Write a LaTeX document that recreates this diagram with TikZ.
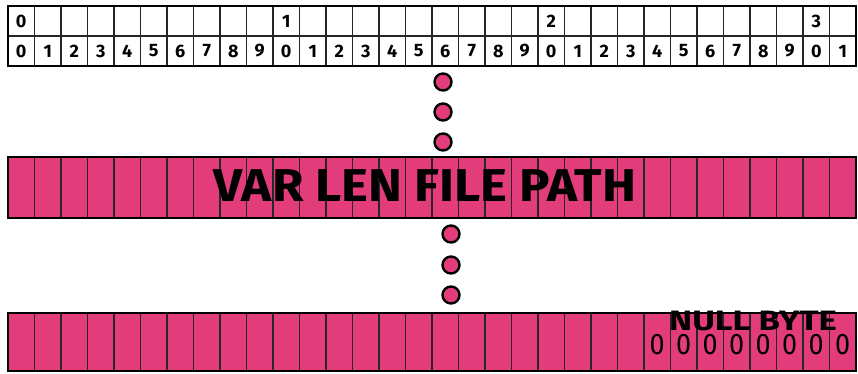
\documentclass[tikz,border=0pt]{standalone}
\usepackage{fontspec}
\setmainfont{Fira Sans}
\definecolor{pinkbar}{RGB}{226,60,122}

\begin{document}
\begin{tikzpicture}[x=1pt, y=-1pt,
    cell/.style={draw=black!85, line width=1.8pt},
    frame/.style={draw=black, line width=2.6pt},
    dot/.style={circle, draw=black, fill=pinkbar, line width=2.4pt, minimum size=17pt, inner sep=0pt},
    digit/.style={font=\bfseries\fontsize{18}{18}\selectfont, inner sep=0pt},
    zero/.style={font=\fontsize{27}{27}\selectfont, inner sep=0pt, yscale=1.1},
    heavy/.style={font=\bfseries\fontsize{#1}{#1}\selectfont, inner sep=0pt}]
  \useasboundingbox (0,0) rectangle (858,374);

  % Thang bit
  \foreach \i in {1,...,31}
    \draw[cell] ({8+26.5*\i},6) -- ({8+26.5*\i},66);
  \draw[cell] (8,36) -- (856,36);
  \draw[frame] (8,6) rectangle (856,66);
  \foreach \i/\t in {0/0,10/1,20/2,30/3}
    \node[digit] (hi\i) at ({8+26.5*(\i+0.5)},21) {\t};
  \foreach \i in {0,...,31} {
    \pgfmathtruncatemacro{\d}{mod(\i,10)}
    \node[digit] (lo\i) at ({8+26.5*(\i+0.5)},51) {\d};
  }

  % Cham lung
  \node[dot] (a1) at (443,82) {};
  \node[dot] (a2) at (443,112) {};
  \node[dot] (a3) at (443,142) {};

  % Duong dan
  \fill[pinkbar] (8,157) rectangle (856,218);
  \foreach \i in {1,...,31}
    \draw[cell] ({8+26.5*\i},157) -- ({8+26.5*\i},218);
  \draw[frame] (8,157) rectangle (856,218);
  \node[heavy=46, xscale=1.11] (path) at (425,186) {VAR LEN FILE PATH};

  % Cham lung
  \node[dot] (b1) at (451,234) {};
  \node[dot] (b2) at (451,265) {};
  \node[dot] (b3) at (451,295) {};

  % Byte ket thuc
  \fill[pinkbar] (8,313) rectangle (856,371);
  \foreach \i in {1,...,31}
    \draw[cell] ({8+26.5*\i},313) -- ({8+26.5*\i},371);
  \draw[frame] (8,313) rectangle (856,371);
  \foreach \i in {24,...,31}
    \node[zero] (z\i) at ({8+26.5*(\i+0.5)},345) {0};
  \node[heavy=28, xscale=1.24] (null) at (753,321) {NULL BYTE};
\end{tikzpicture}
\end{document}
